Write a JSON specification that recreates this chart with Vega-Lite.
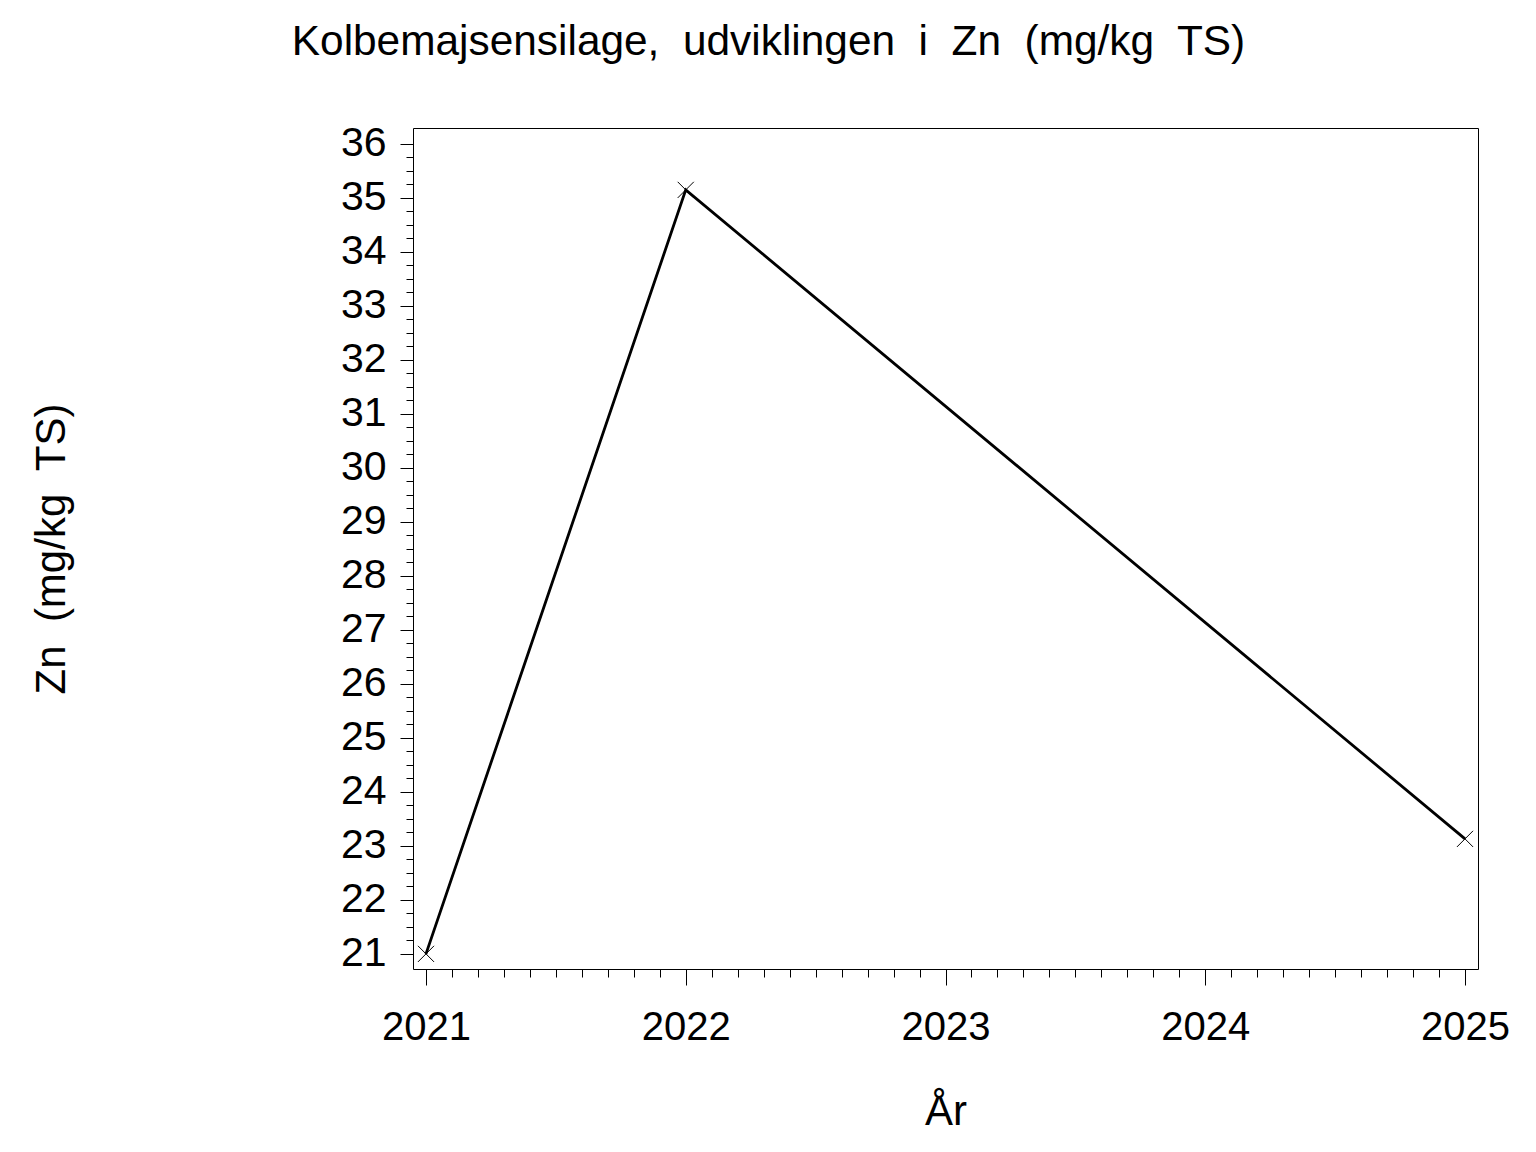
{
  "$schema": "https://vega.github.io/schema/vega-lite/v6.json",
  "autosize": "none",
  "width": 1065,
  "height": 841,
  "padding": {"left": 413, "top": 128, "right": 58, "bottom": 183},
  "background": "white",
  "config": {
    "font": "Liberation Sans",
    "view": {"stroke": "black", "strokeWidth": 1}
  },
  "title": {
    "text": "Kolbemajsensilage,\u00a0 udviklingen\u00a0 i\u00a0 Zn\u00a0 (mg/kg\u00a0 TS)",
    "font": "Liberation Sans",
    "fontSize": 42.4,
    "fontWeight": "normal",
    "color": "black",
    "anchor": "middle",
    "frame": "group",
    "dx": -177,
    "baseline": "alphabetic",
    "offset": 26
  },
  "data": {
    "values": [
      {"year": 2021, "zn": 21.0},
      {"year": 2022, "zn": 35.15},
      {"year": 2025, "zn": 23.13}
    ]
  },
  "encoding": {
    "x": {
      "field": "year",
      "type": "quantitative",
      "scale": {"domain": [2020.95, 2025.05], "nice": false, "zero": false},
      "axis": {
        "title": "År",
        "titleFont": "Liberation Sans",
        "titleFontSize": 42,
        "titleFontWeight": "normal",
        "titleColor": "black",
        "titleBaseline": "alphabetic",
        "titleY": 155,
        "values": [2021, 2021.1, 2021.2, 2021.3, 2021.4, 2021.5, 2021.6, 2021.7, 2021.8, 2021.9, 2022, 2022.1, 2022.2, 2022.3, 2022.4, 2022.5, 2022.6, 2022.7, 2022.8, 2022.9, 2023, 2023.1, 2023.2, 2023.3, 2023.4, 2023.5, 2023.6, 2023.7, 2023.8, 2023.9, 2024, 2024.1, 2024.2, 2024.3, 2024.4, 2024.5, 2024.6, 2024.7, 2024.8, 2024.9, 2025],
        "labelExpr": "abs(datum.value - round(datum.value)) < 0.001 ? format(datum.value, 'd') : ''",
        "labelFont": "Liberation Sans",
        "labelFontSize": 40,
        "labelColor": "black",
        "labelOverlap": false,
        "labelFlush": false,
        "labelBound": false,
        "labelPadding": 22,
        "grid": false,
        "domain": false,
        "tickColor": "black",
        "tickWidth": 1,
        "tickSize": {"condition": {"test": "abs(datum.value - round(datum.value)) < 0.001", "value": 16}, "value": 8}
      }
    },
    "y": {
      "field": "zn",
      "type": "quantitative",
      "scale": {"domain": [20.72, 36.296], "nice": false, "zero": false},
      "axis": {
        "title": "Zn\u00a0 (mg/kg\u00a0 TS)",
        "titleFont": "Liberation Sans",
        "titleFontSize": 42,
        "titleFontWeight": "normal",
        "titleColor": "black",
        "titleBaseline": "alphabetic",
        "titleX": -349,
        "values": [21, 21.25, 21.5, 21.75, 22, 22.25, 22.5, 22.75, 23, 23.25, 23.5, 23.75, 24, 24.25, 24.5, 24.75, 25, 25.25, 25.5, 25.75, 26, 26.25, 26.5, 26.75, 27, 27.25, 27.5, 27.75, 28, 28.25, 28.5, 28.75, 29, 29.25, 29.5, 29.75, 30, 30.25, 30.5, 30.75, 31, 31.25, 31.5, 31.75, 32, 32.25, 32.5, 32.75, 33, 33.25, 33.5, 33.75, 34, 34.25, 34.5, 34.75, 35, 35.25, 35.5, 35.75, 36],
        "labelExpr": "abs(datum.value - round(datum.value)) < 0.001 ? format(datum.value, 'd') : ''",
        "labelFont": "Liberation Sans",
        "labelFontSize": 41,
        "labelColor": "black",
        "labelOverlap": false,
        "labelFlush": false,
        "labelBound": false,
        "labelPadding": 14,
        "grid": false,
        "domain": false,
        "tickColor": "black",
        "tickWidth": 1,
        "tickSize": {"condition": {"test": "abs(datum.value - round(datum.value)) < 0.001", "value": 13}, "value": 7}
      }
    }
  },
  "layer": [
    {"mark": {"type": "line", "color": "black", "strokeWidth": 2.8}},
    {"mark": {"type": "point", "shape": "M-1,-1L1,1M-1,1L1,-1", "filled": false, "stroke": "black", "strokeWidth": 1, "size": 260, "opacity": 1}}
  ]
}
